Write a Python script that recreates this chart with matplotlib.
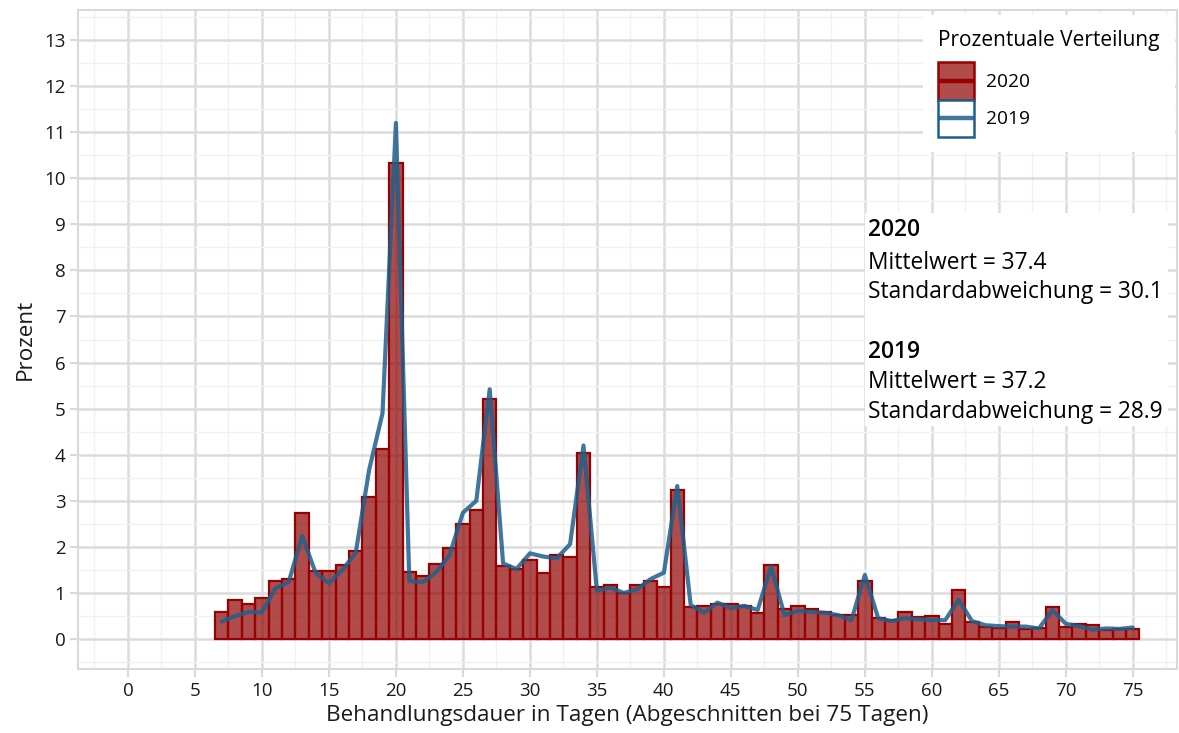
import numpy as np
import matplotlib.pyplot as plt
from matplotlib.patches import Rectangle
from matplotlib.lines import Line2D
from matplotlib.legend_handler import HandlerBase
from matplotlib.ticker import MultipleLocator

plt.rcParams['font.family'] = ['Open Sans', 'DejaVu Sans']

# Behandlungsdauer in Tagen (7 bis 75)
tage = list(range(7, 76))

anteil_2020 = [0.59, 0.85, 0.77, 0.90, 1.26, 1.30, 2.74, 1.48, 1.47, 1.61,
               1.92, 3.09, 4.12, 10.33, 1.45, 1.37, 1.63, 1.97, 2.49, 2.80,
               5.21, 1.59, 1.52, 1.71, 1.43, 1.82, 1.77, 4.04, 1.12, 1.17,
               0.99, 1.17, 1.26, 1.12, 3.23, 0.69, 0.72, 0.77, 0.76, 0.72,
               0.56, 1.61, 0.65, 0.72, 0.65, 0.59, 0.52, 0.52, 1.26, 0.46,
               0.41, 0.58, 0.47, 0.51, 0.33, 1.06, 0.38, 0.27, 0.23, 0.38,
               0.21, 0.23, 0.70, 0.27, 0.33, 0.30, 0.20, 0.21, 0.22]

anteil_2019 = [0.38, 0.50, 0.59, 0.58, 1.10, 1.24, 2.24, 1.44, 1.21, 1.50,
               1.87, 3.67, 4.90, 11.2, 1.26, 1.23, 1.45, 1.82, 2.74, 3.00,
               5.42, 1.64, 1.52, 1.86, 1.79, 1.75, 2.06, 4.20, 1.05, 1.12,
               1.00, 1.08, 1.30, 1.44, 3.32, 0.74, 0.57, 0.79, 0.67, 0.72,
               0.63, 1.57, 0.52, 0.61, 0.59, 0.57, 0.52, 0.41, 1.39, 0.45,
               0.39, 0.45, 0.43, 0.41, 0.41, 0.85, 0.39, 0.30, 0.28, 0.27,
               0.27, 0.23, 0.63, 0.33, 0.28, 0.20, 0.23, 0.22, 0.25]

stat_2020 = ("2020", "Mittelwert = 37.4", "Standardabweichung = 30.1")
stat_2019 = ("2019", "Mittelwert = 37.2", "Standardabweichung = 28.9")

rot_fill = (0.56, 0.0, 0.0, 0.7)
rot_rand = '#990000'
blau = '#1f5f8b'
grau = '#d9d9d9'
txt_farbe = '#1a1a1a'


class BoxLine(HandlerBase):
    # Kasten mit waagrechter Linie in der Mitte (wie ggplot-Legende)
    def __init__(self, face, edge, line_color, line_alpha=1.0):
        super().__init__()
        self.face, self.edge = face, edge
        self.line_color, self.line_alpha = line_color, line_alpha

    def create_artists(self, legend, orig_handle, xdescent, ydescent,
                       width, height, fontsize, trans):
        r = Rectangle((-xdescent, -ydescent), width, height, facecolor=self.face,
                      edgecolor=self.edge, linewidth=1.8, transform=trans)
        ym = -ydescent + height / 2
        l = Line2D([-xdescent, -xdescent + width], [ym, ym], color=self.line_color,
                   alpha=self.line_alpha, linewidth=3.2, solid_capstyle='butt',
                   transform=trans)
        return [r, l]


fig = plt.figure(figsize=(11.79, 7.33), dpi=100)
ax = fig.add_axes([78 / 1179, 1 - 669 / 733, (1177 - 78) / 1179, (669 - 10) / 733])

ax.bar(tage, anteil_2020, width=1.0, color=rot_fill, edgecolor=rot_rand,
       linewidth=1.6, zorder=3)
ax.plot(tage, anteil_2019, color=blau, alpha=0.85, linewidth=3, zorder=4,
        solid_joinstyle='round', solid_capstyle='round')

ax.set_xlim(-3.73, 78.3)
ax.set_ylim(-0.65, 13.65)
ax.xaxis.set_major_locator(MultipleLocator(5))
ax.xaxis.set_minor_locator(MultipleLocator(2.5))
ax.yaxis.set_major_locator(MultipleLocator(1))
ax.yaxis.set_minor_locator(MultipleLocator(0.5))
ax.grid(which='major', color='#dcdcdc', linewidth=1.8, zorder=0)
ax.grid(which='minor', color='#f1f1f1', linewidth=1.0, zorder=0)
ax.set_axisbelow(True)
for s in ax.spines.values():
    s.set_color(grau)
    s.set_linewidth(1.5)
ax.tick_params(which='major', color=grau, width=1.5, length=6,
               labelsize=13.5, labelcolor=txt_farbe, pad=3)
ax.tick_params(which='minor', length=0)

ax.set_xlabel("Behandlungsdauer in Tagen (Abgeschnitten bei 75 Tagen)",
              fontsize=16.2, color=txt_farbe, labelpad=4)
ax.set_ylabel("Prozent", fontsize=16.2, color=txt_farbe, labelpad=6)

# Statistik-Kasten
ax.add_patch(Rectangle((55.0, 4.62), 22.6, 4.62, facecolor='white',
                       edgecolor='none', zorder=5))
y_pos = [8.87, 8.17, 7.52]
for i, txt in enumerate(stat_2020):
    ax.text(55.2, y_pos[i], txt, fontsize=16.4, va='center', ha='left', zorder=6,
            fontweight='semibold' if i == 0 else 'normal', color='black')
y_pos = [6.22, 5.57, 4.92]
for i, txt in enumerate(stat_2019):
    ax.text(55.2, y_pos[i], txt, fontsize=16.4, va='center', ha='left', zorder=6,
            fontweight='semibold' if i == 0 else 'normal', color='black')

# Legende
h2020 = Rectangle((0, 0), 1, 1)
h2019 = Rectangle((0, 0), 1, 1)
leg = ax.legend([h2020, h2019], ["2020", "2019"],
                handler_map={h2020: BoxLine(rot_fill, rot_rand, rot_rand),
                             h2019: BoxLine('white', blau, blau, 0.85)},
                title="Prozentuale Verteilung", title_fontsize=15, fontsize=13.8,
                loc='upper right', bbox_to_anchor=(1175 / 1179, 1 - 15 / 733),
                bbox_transform=fig.transFigure, alignment='left',
                handlelength=1.875, handleheight=2.6, handletextpad=0.62,
                labelspacing=0.0, borderpad=0.8, borderaxespad=0,
                frameon=True, fancybox=False, framealpha=1)
leg.get_frame().set_edgecolor('none')
leg._legend_box.sep = 8
leg.set_zorder(7)

fig.savefig('out.png', dpi=100)
